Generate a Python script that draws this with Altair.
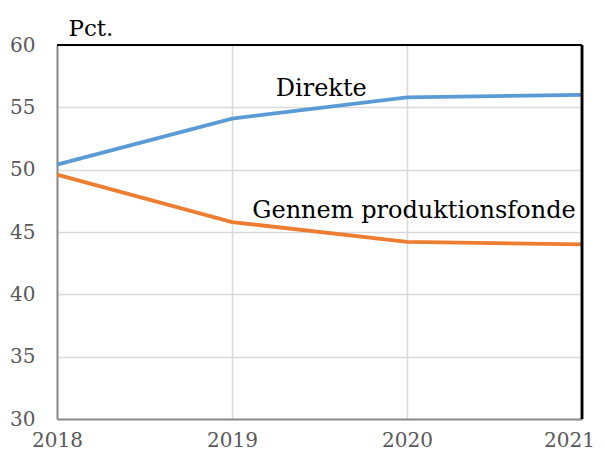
import altair as alt
import pandas as pd

years = [2018, 2019, 2020, 2021]
direkte = [50.4, 54.1, 55.8, 56.0]
gennem = [49.6, 45.8, 44.2, 44.0]
series_names = ["Direkte", "Gennem produktionsfonde"]
colors = ["#5B9BD5", "#ED7D31"]

label_text = ["Direkte", "Gennem produktionsfonde"]
label_x = [2019.51, 2020.04]
label_y = [55.9, 46.1]

y_ticks = [30, 35, 40, 45, 50, 55, 60]

rows = []
for i, yr in enumerate(years):
    rows.append({"year": yr, "value": direkte[i], "series": series_names[0]})
    rows.append({"year": yr, "value": gennem[i], "series": series_names[1]})
df = pd.DataFrame(rows)
labels_df = pd.DataFrame({"text": label_text, "x": label_x, "y": label_y})

FONT = "DejaVu Serif"
W, H = 525, 374

xscale = alt.Scale(domain=[2018, 2021], nice=False, zero=False)
yscale = alt.Scale(domain=[30, 60], nice=False, zero=False)

lines = alt.Chart(df).mark_line(strokeWidth=3.8).encode(
    x=alt.X("year:Q", scale=xscale,
            axis=alt.Axis(values=years, format="d", title=None, labelFlush=False,
                          labelOffset={"condition": {"test": "datum.value == 2021", "value": -13}, "value": 0},
                          ticks=False, labelPadding=27, labelBaseline="alphabetic",
                          labelFontSize=20, labelFont=FONT,
                          labelColor="#595959", domainColor="#8a8a8a", domainWidth=2,
                          gridColor="#d9d9d9", gridWidth=1.5)),
    y=alt.Y("value:Q", scale=yscale,
            axis=alt.Axis(values=y_ticks, title="Pct.", titleAngle=0, titleX=11, titleY=-10,
                          titleAlign="left", titleBaseline="alphabetic", titleFont=FONT,
                          titleFontSize=23, titleFontWeight="normal", titleColor="black",
                          ticks=False, labelPadding=22, labelFontSize=20, labelFont=FONT,
                          labelColor="#595959", domainColor="#8a8a8a", domainWidth=2,
                          gridColor="#d9d9d9", gridWidth=1.5)),
    color=alt.Color("series:N", scale=alt.Scale(domain=series_names, range=colors), legend=None),
)

texts = alt.Chart(labels_df).mark_text(font=FONT, fontSize=24, color="black",
                                       align="center", baseline="alphabetic").encode(
    x=alt.X("x:Q", scale=xscale),
    y=alt.Y("y:Q", scale=yscale),
    text="text:N",
)

top_rule = alt.Chart(labels_df).mark_rule(color="black", strokeWidth=2).encode(
    x=alt.value(0), x2=alt.value(W), y=alt.value(0))
right_rule = alt.Chart(labels_df).mark_rule(color="black", strokeWidth=2.5).encode(
    x=alt.value(W), y=alt.value(0), y2=alt.value(H))

chart = alt.layer(lines, texts, top_rule, right_rule).properties(
    width=W, height=H,
    autosize=alt.AutoSizeParams(type="none"),
    padding={"left": 49, "top": 37, "right": 15, "bottom": 32},
).configure_view(stroke=None)

chart.save("out.html", embed_options={"renderer": "svg", "actions": False})
